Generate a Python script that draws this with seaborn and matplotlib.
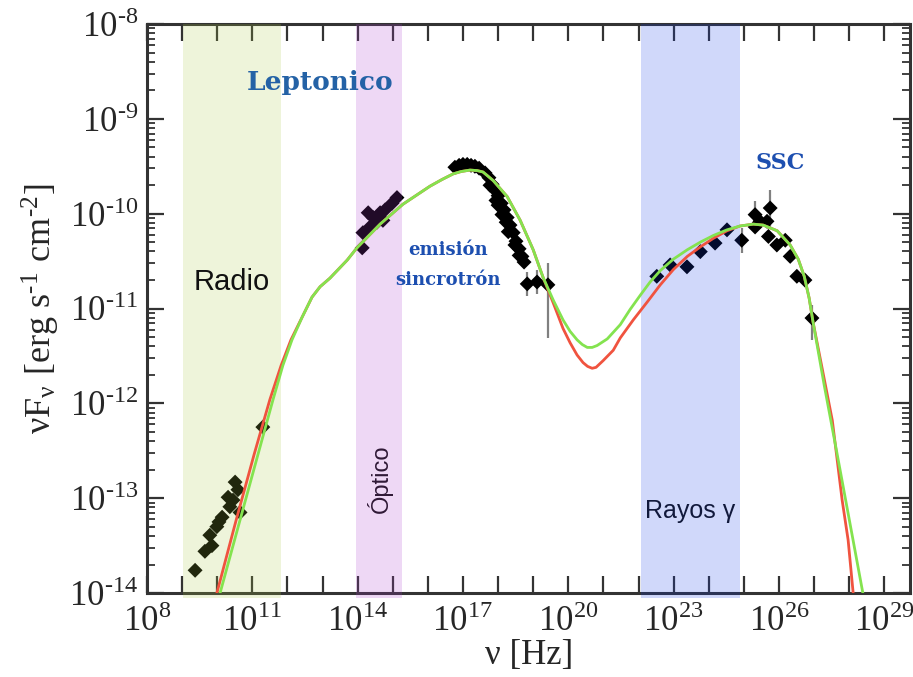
import numpy as np
import pandas as pd
import matplotlib
matplotlib.use("Agg")
import matplotlib.pyplot as plt
import seaborn as sns
from matplotlib.ticker import FixedLocator, NullFormatter

# ---- data: log10(nu / Hz) and log10(nu F_nu / erg s^-1 cm^-2) ----
radio_lognu = [9.37, 9.65, 9.85, 9.79, 9.99, 10.14, 10.05, 10.36, 10.31, 10.45, 10.51, 10.59, 10.65, 11.30]
radio_logf = [-13.76, -13.56, -13.50, -13.39, -13.30, -13.20, -13.25, -13.09, -12.99, -13.02, -12.83, -12.91, -13.15, -12.25]

opt_lognu = [14.13, 14.15, 14.35, 14.30, 14.55, 14.64, 14.78, 14.72, 14.98, 15.12, 14.44]
opt_logf = [-10.36, -10.20, -10.14, -9.99, -10.09, -9.99, -9.96, -10.07, -9.89, -9.83, -10.04]

xray_lognu = [16.77, 16.89, 17.00, 17.12, 17.23, 17.34, 17.46, 17.63, 17.74, 17.83, 17.91, 18.00,
              18.09, 18.17, 18.26, 18.34, 18.43, 18.51, 18.60, 18.68, 18.74,
              17.77, 17.94, 18.00, 18.11, 18.23, 18.29, 18.48, 18.60]
xray_logf = [-9.51, -9.49, -9.48, -9.48, -9.49, -9.50, -9.52, -9.57, -9.62, -9.69, -9.75, -9.81,
             -9.89, -9.96, -10.04, -10.12, -10.20, -10.29, -10.37, -10.45, -10.51,
             -9.70, -9.86, -9.91, -10.01, -10.09, -10.19, -10.33, -10.44]

hx_lognu = [18.83, 19.11, 19.42]
hx_logf = [-10.74, -10.72, -10.75]
hx_lo = [-10.87, -10.85, -11.31]
hx_hi = [-10.61, -10.59, -10.52]

gam_lognu = [22.52, 22.90, 23.38, 23.76, 24.18, 24.52, 24.94, 25.32, 25.46, 25.32, 25.75, 25.66,
             25.70, 25.94, 26.18, 26.32, 26.51, 26.74, 26.94]
gam_logf = [-10.66, -10.54, -10.56, -10.40, -10.31, -10.17, -10.28, -10.01, -10.08, -10.14, -9.94, -10.08,
            -10.24, -10.33, -10.28, -10.45, -10.66, -10.70, -11.10]
gam_err_lognu = [24.94, 25.32, 25.75, 26.94]
gam_err_logf = [-10.28, -10.01, -9.94, -11.10]
gam_err_lo = [-10.41, -10.15, -10.14, -11.33]
gam_err_hi = [-10.15, -9.87, -9.75, -10.96]

# leptonic model curves (synchrotron + SSC)
green_lognu = [10.03, 10.65, 11.16, 11.59, 11.87, 12.13, 12.42, 12.70, 12.93, 13.21, 13.70, 13.98, 14.64,
               15.29, 16.06, 16.40, 16.72, 16.95, 17.20, 17.40, 17.57, 17.86, 18.26, 18.63, 19.00, 19.28,
               19.57, 19.85, 20.05, 20.25, 20.40, 20.54, 20.68, 20.82, 21.11, 21.48, 21.76, 22.05, 22.33,
               22.62, 22.99, 23.39, 23.76, 24.13, 24.52, 24.89, 25.27, 25.55, 25.95, 26.32, 26.55, 26.72,
               26.86, 26.97, 27.29, 27.63, 27.97, 28.48]
green_logf = [-14.07, -13.23, -12.54, -11.96, -11.60, -11.33, -11.09, -10.88, -10.77, -10.68, -10.49, -10.36, -10.11,
              -9.90, -9.71, -9.64, -9.58, -9.555, -9.54, -9.545, -9.56, -9.65, -9.82, -10.07, -10.38, -10.67,
              -10.91, -11.12, -11.24, -11.33, -11.38, -11.41, -11.41, -11.39, -11.32, -11.17, -11.01, -10.86, -10.72,
              -10.60, -10.48, -10.38, -10.30, -10.23, -10.17, -10.13, -10.11, -10.12, -10.18, -10.33, -10.48, -10.66,
              -10.89, -11.14, -11.81, -12.48, -13.16, -14.18]

red_lognu = [9.94, 10.54, 11.05, 11.50, 11.82, 12.10, 12.42, 12.70, 12.93, 13.21, 13.70, 13.98, 14.64,
             15.29, 16.06, 16.40, 16.72, 16.95, 17.20, 17.40, 17.57, 17.86, 18.26, 18.63, 19.00, 19.28,
             19.57, 19.85, 20.05, 20.25, 20.42, 20.55, 20.68, 20.79, 20.99, 21.28, 21.48, 21.85, 22.25,
             22.62, 22.99, 23.39, 23.76, 24.13, 24.52, 24.89, 25.27, 25.55, 25.95, 26.32, 26.55, 26.72,
             26.86, 26.97, 27.23, 27.52, 27.80, 27.97, 28.16]
red_logf = [-14.07, -13.23, -12.54, -11.96, -11.60, -11.33, -11.09, -10.88, -10.77, -10.68, -10.49, -10.36, -10.11,
            -9.90, -9.71, -9.64, -9.58, -9.555, -9.54, -9.545, -9.56, -9.65, -9.82, -10.07, -10.38, -10.67,
            -10.94, -11.21, -11.36, -11.49, -11.57, -11.61, -11.63, -11.62, -11.55, -11.44, -11.31, -11.12, -10.93,
            -10.75, -10.59, -10.45, -10.35, -10.26, -10.18, -10.13, -10.11, -10.12, -10.18, -10.33, -10.48, -10.66,
            -10.89, -11.14, -11.63, -12.18, -13.02, -13.44, -14.18]

# spectral windows: (label, log10 nu_min, log10 nu_max, colour)
band_names = ["Radio", "Óptico", "Rayos γ"]
band_lo = [9.03, 13.95, 22.07]
band_hi = [11.82, 15.26, 24.89]
band_colors = ["#aac846", "#aa3ccd", "#143ce6"]

x_label_exps = [8, 11, 14, 17, 20, 23, 26, 29]
y_label_exps = [-8, -9, -10, -11, -12, -13, -14]

# ---- figure ----
sns.set_theme(style="ticks")
plt.rcParams["font.family"] = ["Liberation Serif", "DejaVu Serif"]
plt.rcParams["mathtext.fontset"] = "stix"

fig = plt.figure(figsize=(9.13, 6.77), dpi=100)
ax = fig.add_axes([0.161, 0.124, 0.836, 0.8405])
ax.set_xscale("log")
ax.set_yscale("log")


def frame(lognu, logf):
    return pd.DataFrame({"nu": np.power(10.0, lognu), "f": np.power(10.0, logf)})


def power_label(e):
    # plain hyphen for the sign of the exponent
    s = str(e).replace("-", "\u2010")
    return "10$^{\\mathregular{" + s + "}}$"


# model curves
sns.lineplot(data=frame(red_lognu, red_logf), x="nu", y="f", ax=ax, color="#f0533f",
             lw=2.0, sort=False, estimator=None, zorder=5)
sns.lineplot(data=frame(green_lognu, green_logf), x="nu", y="f", ax=ax, color="#84e34f",
             lw=2.0, sort=False, estimator=None, zorder=6)

# error bars
ebc = "#808080"
for xs, ys, lo, hi in [(hx_lognu, hx_logf, hx_lo, hx_hi),
                       (gam_err_lognu, gam_err_logf, gam_err_lo, gam_err_hi)]:
    y = np.power(10.0, ys)
    ax.errorbar(np.power(10.0, xs), y,
                yerr=[y - np.power(10.0, lo), np.power(10.0, hi) - y],
                fmt="none", ecolor=ebc, elinewidth=1.6, capsize=0, zorder=2)

# measured points
for xs, ys in [(radio_lognu, radio_logf), (opt_lognu, opt_logf), (xray_lognu, xray_logf),
               (hx_lognu, hx_logf), (gam_lognu, gam_logf)]:
    sns.scatterplot(data=frame(xs, ys), x="nu", y="f", ax=ax, marker="D", s=58,
                    color="black", edgecolor="none", linewidth=0, zorder=2)

# spectral windows, drawn translucently over the points and the frame
for lo, hi, c in zip(band_lo, band_hi, band_colors):
    ax.axvspan(10.0 ** lo, 10.0 ** hi, ymin=-0.008, ymax=1.0, color=c, alpha=0.2,
               lw=0, zorder=4, clip_on=False)

ax.set_xlim(1e8, 10 ** 29.74)
ax.set_ylim(1e-14, 1e-8)

# ticks
xt = np.power(10.0, np.arange(8, 30))
ax.set_xticks(xt)
ax.xaxis.set_minor_locator(FixedLocator([]))
ax.set_xticklabels([power_label(e) if e in x_label_exps else "" for e in range(8, 30)])
yt = np.power(10.0, np.array(y_label_exps, dtype=float))
ax.set_yticks(yt)
ax.set_yticklabels([power_label(e) for e in y_label_exps])
ax.yaxis.set_minor_locator(FixedLocator([m * 10.0 ** e for e in range(-14, -8) for m in range(2, 10)]))
ax.yaxis.set_minor_formatter(NullFormatter())

ax.tick_params(axis="both", which="major", direction="in", length=12, width=1.6,
               color="#333333", labelsize=25, top=True, right=True)
ax.tick_params(axis="x", which="major", pad=9)
ax.tick_params(axis="y", which="major", pad=6)
ax.tick_params(axis="y", which="minor", direction="in", length=6, width=1.3,
               color="#333333", right=True, left=True)
for s in ax.spines.values():
    s.set_linewidth(2.2)
    s.set_color("#333333")

ax.set_xlabel("ν [Hz]", fontsize=25, labelpad=0)
ax.set_ylabel("νF$_{\\mathregular{ν}}$ [erg s$^{\\mathregular{\u20101}}$ cm$^{\\mathregular{\u20102}}$]",
              fontsize=26, labelpad=6)

# annotations
serif_blue = dict(family="DejaVu Serif", fontweight="bold", ha="center", va="center")
ax.text(10 ** 12.93, 10 ** -8.62, "Leptonico", color="#2462a6", fontsize=19, zorder=7, **serif_blue)
ax.text(10 ** 26.03, 10 ** -9.47, "SSC", color="#1d4fb0", fontsize=16, zorder=7, **serif_blue)
ax.text(10 ** 16.58, 10 ** -10.38, "emisión", color="#1d4fb0", fontsize=13, zorder=7, **serif_blue)
ax.text(10 ** 16.58, 10 ** -10.70, "sincrotrón", color="#1d4fb0", fontsize=13, zorder=7, **serif_blue)

sans = ["Liberation Sans", "DejaVu Sans"]
ax.text(10 ** 10.42, 10 ** -10.72, band_names[0], family=sans, fontsize=21, color="#111111",
        ha="center", va="center", zorder=7)
ax.text(10 ** 14.64, 10 ** -12.79, band_names[1], family=sans, fontsize=17, color="#111111",
        ha="center", va="center", rotation=90, zorder=2)
ax.text(10 ** 23.47, 10 ** -13.13, band_names[2], family=sans, fontsize=18, color="#111111",
        ha="center", va="center", zorder=2)

fig.savefig("out.png", dpi=100)
